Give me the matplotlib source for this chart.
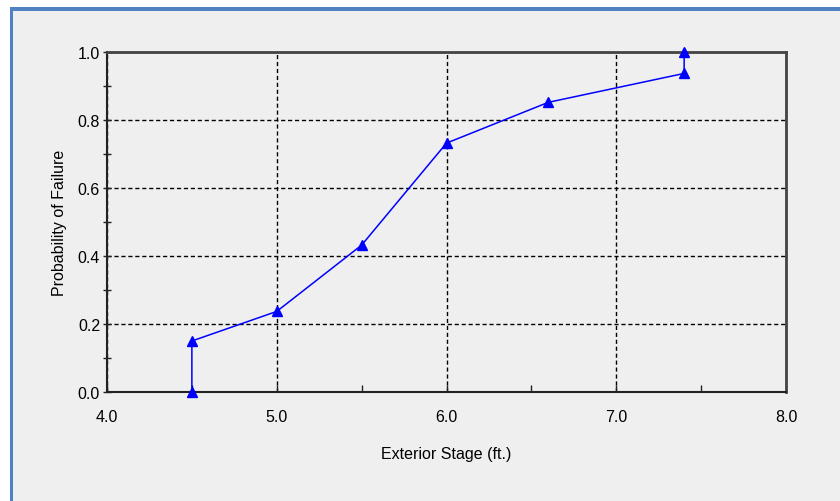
import matplotlib
matplotlib.use("Agg")
import matplotlib.pyplot as plt
from matplotlib.patches import Rectangle
from matplotlib.ticker import MultipleLocator

stage = [4.5, 4.5, 5.0, 5.5, 6.0, 6.6, 7.4, 7.4]
prob = [0.0, 0.15, 0.237, 0.432, 0.732, 0.852, 0.937, 1.0]
x_ticks = [4.0, 5.0, 6.0, 7.0, 8.0]
y_ticks = [0.0, 0.2, 0.4, 0.6, 0.8, 1.0]

plt.rcParams['font.family'] = ['Liberation Sans', 'DejaVu Sans']

fig = plt.figure(figsize=(8.4, 5.02), dpi=100)
fig.patch.set_facecolor('white')
W, H = 840, 502
# grey panel with blue border
fig.patches.append(Rectangle((10 / W, 0), 1 - 10 / W + 0.01, 1 - 8 / H, transform=fig.transFigure,
                             facecolor='#efefef', edgecolor='none', zorder=-2))
fig.patches.append(Rectangle((10 / W, 0), 3 / W, 1 - 8 / H, transform=fig.transFigure,
                             facecolor='#4f81c3', edgecolor='none', zorder=-1))
fig.patches.append(Rectangle((10 / W, 1 - 12 / H), 1, 4 / H, transform=fig.transFigure,
                             facecolor='#4f81c3', edgecolor='none', zorder=-1))

ax = fig.add_axes([107 / W, 1 - 393 / H, (786 - 107) / W, (393 - 53) / H])
ax.set_facecolor('#efefef')
ax.set_xlim(4.0, 8.0)
ax.set_ylim(0.0, 1.0)
ax.set_xticks(x_ticks)
ax.set_xticklabels([f"{v:.1f}" for v in x_ticks])
ax.set_yticks(y_ticks)
ax.set_yticklabels([f"{v:.1f}" for v in y_ticks])
ax.xaxis.set_minor_locator(MultipleLocator(0.5))
ax.yaxis.set_minor_locator(MultipleLocator(0.1))
ax.tick_params(axis='x', which='both', direction='in', length=5, width=1, labelsize=11.5, pad=12, color='#222222')
ax.tick_params(axis='y', which='both', direction='inout', length=6, width=1, labelsize=11.5, pad=2, color='#222222')

for s in ['left', 'bottom']:
    ax.spines[s].set_linewidth(1.5)
    ax.spines[s].set_color('#222222')
for s in ['top', 'right']:
    ax.spines[s].set_linewidth(2)
    ax.spines[s].set_color('#444444')

ax.grid(True, which='major', color='black', linestyle=(0, (3, 2)), linewidth=1)
ax.set_axisbelow(True)

ax.plot(stage, prob, color='#0000ff', linewidth=1.1, marker='^', markersize=6.5,
        markerfacecolor='#0000ff', markeredgecolor='#0000ff', clip_on=False, zorder=3)

ax.set_xlabel('Exterior Stage (ft.)', fontsize=11.5, labelpad=16)
ax.set_ylabel('Probability of Failure', fontsize=11.5, labelpad=8)

fig.savefig('out.png', dpi=100, facecolor=fig.get_facecolor())
